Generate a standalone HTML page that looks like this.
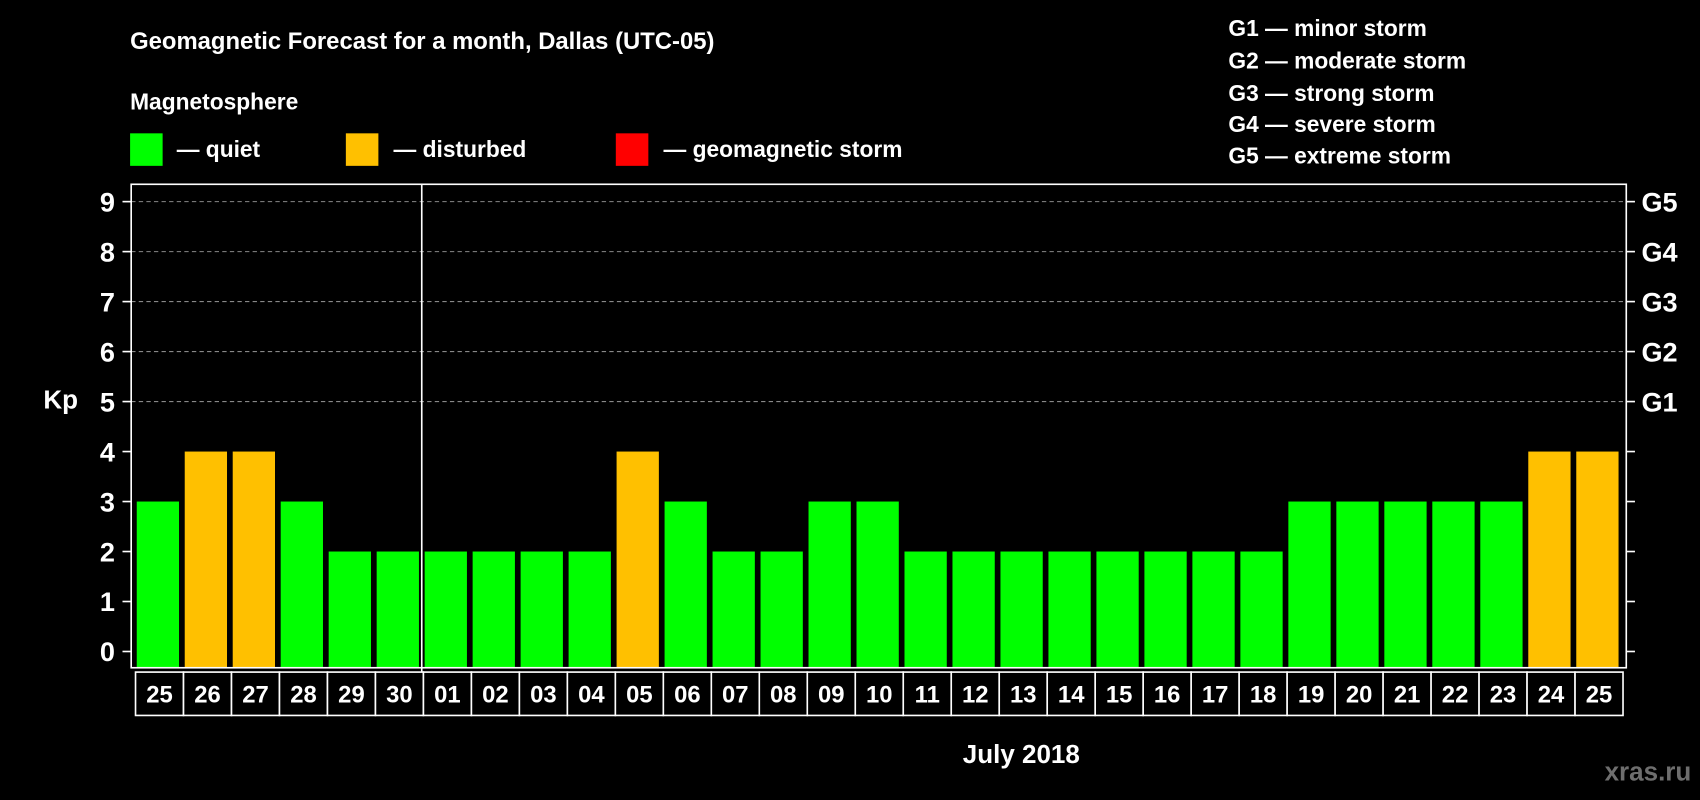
<!DOCTYPE html>
<html><head><meta charset="utf-8"><style>
html,body{margin:0;padding:0;background:#000;}
svg{display:block;font-family:"Liberation Sans",Arial,sans-serif;font-weight:bold;}
</style></head><body>
<svg id="chart" width="1700" height="800" viewBox="0 0 1568 738" preserveAspectRatio="none" xmlns="http://www.w3.org/2000/svg">
<rect x="0" y="0" width="1568" height="738" fill="#000"/>
<text x="120" y="45" fill="#fff" font-size="22">Geomagnetic Forecast for a month, Dallas (UTC-05)</text>
<text x="120" y="101" fill="#fff" font-size="21">Magnetosphere</text>
<g><rect x="120" y="123" width="30" height="30" fill="#00ff00"/><text x="163" y="145" fill="#fff" font-size="21">— quiet</text></g>
<g><rect x="319" y="123" width="30" height="30" fill="#ffc000"/><text x="363" y="145" fill="#fff" font-size="21">— disturbed</text></g>
<g><rect x="568" y="123" width="30" height="30" fill="#ff0000"/><text x="612" y="145" fill="#fff" font-size="21">— geomagnetic storm</text></g>
<g fill="#fff" font-size="21">
<text x="1133" y="33">G1 — minor storm</text>
<text x="1133" y="63">G2 — moderate storm</text>
<text x="1133" y="93">G3 — strong storm</text>
<text x="1133" y="122">G4 — severe storm</text>
<text x="1133" y="151">G5 — extreme storm</text>
</g>
<text x="40" y="377" fill="#fff" font-size="24">Kp</text>
<g id="grid"></g>
<g id="bars"></g>
<g id="axes"></g>
<rect x="121" y="170" width="1379" height="446" fill="none" stroke="#fff" stroke-width="1.5"/>
<line x1="389" y1="170" x2="389" y2="660" stroke="#fff" stroke-width="1.5"/>
<g id="xlabels"></g>
<text x="942" y="704" fill="#fff" font-size="24" text-anchor="middle">July 2018</text>
<text x="1560" y="720" fill="#6e6e6e" font-size="24" text-anchor="end">xras.ru</text>
</svg>
<script>
const days = ["25","26","27","28","29","30","01","02","03","04","05","06","07","08","09","10","11","12","13","14","15","16","17","18","19","20","21","22","23","24","25"];
const kpValues = [3,4,4,3,2,2,2,2,2,2,4,3,2,2,3,3,2,2,2,2,2,2,2,2,3,3,3,3,3,4,4];
const yTicks = [0,1,2,3,4,5,6,7,8,9];
const gLabels = ["G1","G2","G3","G4","G5"];
const gLevels = [5,6,7,8,9];

const NS = "http://www.w3.org/2000/svg";
const plotL = 121, plotR = 1500, y0 = 601, unit = (601 - 186) / 9;
const slot0 = 125, slotW = (1497 - 125) / days.length;
function y(v){ return y0 - v * unit; }
function xc(i){ return slot0 + slotW * (i + 0.5); }
function mk(tag, attrs, parent){ const e = document.createElementNS(NS, tag); for (const k in attrs) e.setAttribute(k, attrs[k]); parent.appendChild(e); return e; }
function color(v){ return v >= 5 ? "#ff0000" : (v >= 4 ? "#ffc000" : "#00ff00"); }

const grid = document.getElementById("grid"), axes = document.getElementById("axes"), bars = document.getElementById("bars"), xl = document.getElementById("xlabels");
yTicks.forEach(t => {
  if (t >= 5) {
    const g = mk("line", {x1: plotL, x2: plotR, y1: y(t), y2: y(t), stroke: "#888", "stroke-dasharray": "4,3", "stroke-width": 1}, grid);
    
    
  }
  const tl = mk("line", {x1: 113, x2: plotL, y1: y(t), y2: y(t), stroke: "#fff", "stroke-width": 1.5}, axes);
  
  
  const tr = mk("line", {x1: plotR, x2: 1508, y1: y(t), y2: y(t), stroke: "#fff", "stroke-width": 1.5}, axes);
  
  
  const lab = mk("text", {x: 106, y: y(t) + 9, fill: "#fff", "font-size": 25, "text-anchor": "end"}, axes);
  lab.textContent = t;
  
  
});
gLabels.forEach((g, i) => {
  const t = mk("text", {x: 1514, y: y(gLevels[i]) + 9, fill: "#fff", "font-size": 25}, axes);
  t.textContent = g;
  
  
});
const bw = 39;
kpValues.forEach((v, i) => {
  const r = mk("rect", {x: xc(i) - bw / 2 - 1.5, y: y(v), width: bw, height: 616 - y(v), fill: color(v)}, bars);
  
  
});
days.forEach((d, i) => {
  const c = mk("rect", {x: slot0 + slotW * i, y: 620, width: slotW, height: 40, fill: "#000", stroke: "#fff", "stroke-width": 1.5}, xl);
  
  
  const t = mk("text", {x: xc(i), y: 648, fill: "#fff", "font-size": 22, "text-anchor": "middle"}, xl);
  t.textContent = d;
  
  
});
</script>
</body></html>
